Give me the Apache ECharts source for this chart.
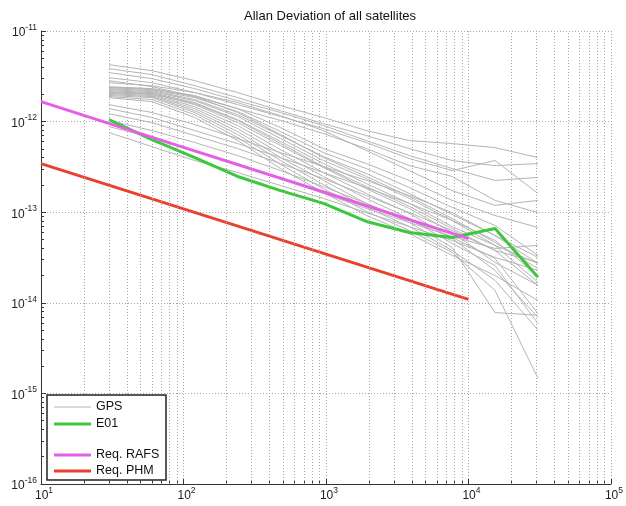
<!DOCTYPE html>
<html>
<head>
<meta charset="utf-8">
<script src="https://cdn.jsdelivr.net/npm/echarts@6/dist/echarts.min.js"></script>
<style>html,body{margin:0;padding:0;background:#fff;}#c{width:626px;height:506px;}</style>
</head>
<body>
<div id="c"></div>
<script>
const taus = [30, 60, 120, 240, 480, 960, 1920, 3840, 7680, 15360, 30720];
const gpsLines = [
  [4.25e-12,3.65e-12,2.83e-12,2.09e-12,1.5e-12,1.11e-12,7.96e-13,6.18e-13,5.72e-13,5.16e-13,4.01e-13],
  [3.84e-12,3.30e-12,2.49e-12,1.84e-12,1.32e-12,9.5e-13,7.01e-13,5.04e-13,3.72e-13,3.27e-13,3.44e-13],
  [3.47e-12,2.98e-12,2.31e-12,1.70e-12,1.26e-12,9.04e-13,6.18e-13,4.22e-13,3.03e-13,2.24e-13,2.42e-13],
  [3.05e-12,2.69e-12,2.09e-12,1.54e-12,1.14e-12,8.37e-13,5.87e-13,3.91e-13,2.88e-13,3.72e-13,1.61e-13],
  [2.83e-12,2.43e-12,1.89e-12,1.39e-12,1.03e-12,7.38e-13,5.04e-13,3.27e-13,2.48e-13,1.35e-13,9.9e-14],
  [2.69e-12,2.49e-12,2.09e-12,1.62e-12,1.16e-12,7.96e-13,4.79e-13,2.88e-13,1.73e-13,1.19e-13,1.35e-13],
  [2.43e-12,2.31e-12,1.94e-12,1.39e-12,8.59e-13,5.04e-13,3.44e-13,2.24e-13,1.35e-13,9.2e-14,6.78e-14],
  [2.37e-12,2.25e-12,1.84e-12,1.29e-12,7.76e-13,4.55e-13,3.03e-13,1.87e-13,1.13e-13,7.13e-14,3.33e-14],
  [2.31e-12,2.20e-12,1.75e-12,1.19e-12,7.01e-13,4.11e-13,2.67e-13,1.61e-13,9.44e-14,5.53e-14,2.72e-14],
  [2.25e-12,2.14e-12,1.70e-12,1.14e-12,6.50e-13,3.72e-13,2.35e-13,1.42e-13,8.11e-14,4.88e-14,2.0e-14],
  [2.20e-12,2.09e-12,1.62e-12,1.05e-12,6.03e-13,3.44e-13,2.07e-13,1.25e-13,6.95e-14,4.30e-14,1.68e-14],
  [2.14e-12,2.04e-12,1.54e-12,9.75e-13,5.44e-13,3.11e-13,1.82e-13,1.10e-13,5.97e-14,2.79e-14,1.56e-14],
  [2.09e-12,1.99e-12,1.46e-12,9.04e-13,4.91e-13,2.74e-13,1.61e-13,9.68e-14,5.13e-14,2.28e-14,6.9e-15],
  [2.04e-12,1.94e-12,1.39e-12,8.37e-13,4.44e-13,2.48e-13,1.42e-13,8.53e-14,4.52e-14,2.58e-14,5.9e-15],
  [1.99e-12,1.89e-12,1.32e-12,7.76e-13,4.01e-13,2.24e-13,1.25e-13,7.71e-14,4.08e-14,7.8e-15,7.3e-15],
  [1.94e-12,1.84e-12,1.26e-12,7.19e-13,3.72e-13,2.02e-13,1.13e-13,6.95e-14,3.78e-14,1.77e-14,5.0e-15],
  [1.89e-12,1.75e-12,1.19e-12,6.67e-13,3.36e-13,1.82e-13,1.02e-13,6.28e-14,3.60e-14,1.37e-14,1.47e-15],
  [1.84e-12,1.66e-12,1.11e-12,6.18e-13,3.03e-13,1.65e-13,9.2e-14,5.82e-14,3.33e-14,2.0e-14,1.06e-14],
  [2.37e-12,2.31e-12,1.89e-12,1.26e-12,7.19e-13,4.01e-13,2.48e-13,1.49e-13,8.53e-14,4.63e-14,2.39e-14],
  [2.09e-12,2.04e-12,1.58e-12,1.03e-12,5.72e-13,3.19e-13,1.92e-13,1.16e-13,6.6e-14,3.78e-14,2.79e-14],
  [1.54e-12,1.26e-12,9.27e-13,6.50e-13,4.55e-13,3.19e-13,2.24e-13,1.53e-13,9.9e-14,5.53e-14,3.17e-14],
  [1.39e-12,1.11e-12,7.96e-13,5.72e-13,4.01e-13,2.74e-13,1.87e-13,1.25e-13,8.11e-14,4.30e-14,2.72e-14],
  [1.22e-12,9.75e-13,7.01e-13,5.04e-13,3.44e-13,2.35e-13,1.53e-13,9.9e-14,6.28e-14,3.78e-14,1.56e-14],
  [1.03e-12,7.96e-13,5.87e-13,4.22e-13,2.88e-13,1.92e-13,1.25e-13,8.11e-14,5.26e-14,3.09e-14,7.6e-15],
  [8.81e-13,6.67e-13,4.79e-13,3.44e-13,2.35e-13,1.61e-13,1.10e-13,7.71e-14,5.40e-14,3.98e-14,4.30e-14],
  [7.57e-13,5.30e-13,3.72e-13,2.74e-13,1.97e-13,1.42e-13,9.9e-14,6.95e-14,4.88e-14,3.17e-14,2.28e-14]
];
const e01 = [1.05e-12, 6.33e-13, 4.01e-13, 2.48e-13, 1.73e-13, 1.25e-13, 7.9e-14, 5.97e-14, 5.26e-14, 6.6e-14, 1.91e-14];
const reqTaus = [10, 100, 1000, 10000];
const reqRafs = [1.66e-12, 5.2e-13, 1.64e-13, 5.1e-14];
const reqPhm = [3.44e-13, 1.09e-13, 3.44e-14, 1.09e-14];
const xDecades = [10, 100, 1000, 10000];
const yDecades = [1e-16, 1e-15, 1e-14, 1e-13, 1e-12];
const minorSteps = [2, 3, 4, 5, 6, 7, 8, 9];

const minorX = [], minorY = [];
xDecades.forEach(d => minorSteps.forEach(k => minorX.push(k * d)));
yDecades.forEach(d => minorSteps.forEach(k => minorY.push(k * d)));

const FONT = 'Liberation Sans, Arial, sans-serif';
const gridStyle = { color: '#a8a8a8', type: [1, 2], width: 1 };
const pairs = (xs, ys) => xs.map((x, i) => [x, ys[i]]);
const supLabel = v => '{b|10}{s|' + Math.round(Math.log10(v)) + '}';
const rich = {
  b: { fontSize: 12, lineHeight: 16, verticalAlign: 'bottom', color: '#222', fontFamily: FONT },
  s: { fontSize: 8.5, lineHeight: 9, verticalAlign: 'top', color: '#222', fontFamily: FONT }
};

const series = [];
series.push({
  name: '_grid', type: 'line', data: [], silent: true, z: 1,
  markLine: {
    silent: true, symbol: 'none', animation: false,
    label: { show: false },
    lineStyle: gridStyle,
    emphasis: { disabled: true },
    data: minorX.map(v => ({ xAxis: v })).concat(minorY.map(v => ({ yAxis: v })))
  }
});
gpsLines.forEach(vals => {
  series.push({
    name: 'GPS', type: 'line', data: pairs(taus, vals), symbol: 'none', z: 2,
    lineStyle: { color: '#b5b5b5', width: 1 }, itemStyle: { color: '#b5b5b5' }
  });
});
series.push({
  name: 'E01', type: 'line', data: pairs(taus, e01), symbol: 'none', z: 3,
  lineStyle: { color: '#3cc83c', width: 3 }, itemStyle: { color: '#3cc83c' }
});
series.push({
  name: 'Req. RAFS', type: 'line', data: pairs(reqTaus, reqRafs), symbol: 'none', z: 4,
  lineStyle: { color: '#e65ee6', width: 3 }, itemStyle: { color: '#e65ee6' }
});
series.push({
  name: 'Req. PHM', type: 'line', data: pairs(reqTaus, reqPhm), symbol: 'none', z: 4,
  lineStyle: { color: '#e8412e', width: 3 }, itemStyle: { color: '#e8412e' }
});

const legendText = { fontSize: 12.5, lineHeight: 14, color: '#111', fontFamily: FONT };
const mkLegend = (name, top, h) => ({
  data: [{ name: name, icon: 'rect' }], orient: 'vertical', left: 54, top: top, z: 20, padding: 0,
  itemWidth: 37, itemHeight: h, itemGap: 0, textStyle: legendText, selectedMode: false
});
const chart = echarts.init(document.getElementById('c'), null, { renderer: 'canvas' });
chart.setOption({
  animation: false,
  backgroundColor: '#fff',
  title: {
    text: 'Allan Deviation of all satellites', left: 244, top: 10, padding: 0,
    textStyle: { fontSize: 13, fontWeight: 'normal', color: '#111', fontFamily: FONT }
  },
  grid: { left: 41, right: 8, top: 31, bottom: 22, containLabel: false },
  xAxis: {
    type: 'log', logBase: 10, min: 10, max: 100000, interval: 1,
    axisLine: { show: true, lineStyle: { color: '#333', width: 1 } },
    axisTick: { show: true, inside: true, length: 5, lineStyle: { color: '#333' } },
    minorTick: { show: true, splitNumber: 9, length: 3, lineStyle: { color: '#333' } },
    axisLabel: { formatter: supLabel, rich: rich, margin: 2, padding: [0, 0, 0, 6] },
    splitLine: { show: true, lineStyle: gridStyle }
  },
  yAxis: {
    type: 'log', logBase: 10, min: 1e-16, max: 1e-11, interval: 1,
    axisLine: { show: true, lineStyle: { color: '#333', width: 1 } },
    axisTick: { show: true, inside: true, length: 5, lineStyle: { color: '#333' } },
    minorTick: { show: true, splitNumber: 9, length: 3, lineStyle: { color: '#333' } },
    axisLabel: { formatter: supLabel, rich: rich, margin: 4 },
    splitLine: { show: true, lineStyle: gridStyle }
  },
  graphic: [{
    type: 'rect', z: 10,
    shape: { x: 47, y: 395, width: 119, height: 85 },
    style: { fill: '#fff', stroke: '#222', lineWidth: 1.5 }
  }],
  legend: [
    mkLegend('GPS', 400, 1),
    mkLegend('E01', 417, 3),
    mkLegend('Req. RAFS', 448, 3),
    mkLegend('Req. PHM', 464, 3)
  ],
  series: series
});
</script>
</body>
</html>
